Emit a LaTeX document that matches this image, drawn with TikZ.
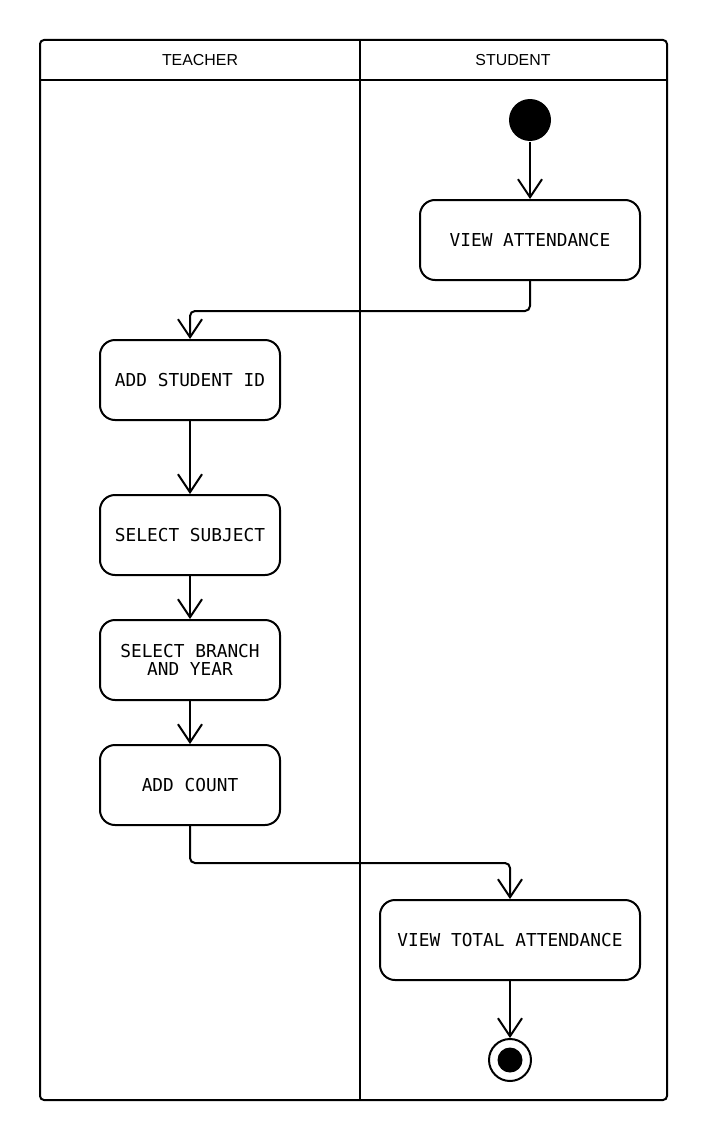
\documentclass[tikz,border=0pt]{standalone}
\usepackage{fontspec}
\setmainfont{Liberation Sans}
\setmonofont{DejaVu Sans Mono}
\usetikzlibrary{shapes,arrows,positioning,arrows.meta}

\tikzset{
  act/.style={draw, rectangle, rounded corners=15pt, minimum width=180pt, minimum height=80pt,
    align=center, inner sep=0pt, font=\ttfamily\fontsize{17.8}{18}\selectfont},
  lane/.style={font=\fontsize{15.9}{18}\selectfont}
}

\begin{document}
\begin{tikzpicture}[x=1pt, y=-1pt, node distance=125pt, line width=2pt, >={Straight Barb[length=18pt,width=24pt]}]

        \useasboundingbox (0,0) rectangle (708,1140);

        \draw [rounded corners=4pt] (40,40) rectangle (667,1100);
        \draw (40,80) -- (667,80);
        \draw (360,40) -- (360,1100);
        \node (teacher) [lane] at (200,60) {TEACHER};
        \node (student) [lane] at (513,60) {STUDENT};

        \node (start) [circle, fill, inner sep=0pt, minimum size=42pt] at (530,120) {};
        \node (viewatt) [act, minimum width=220pt, below of=start, node distance=120pt] {VIEW ATTENDANCE};

        \node (addid) [act] at (190,380) {ADD STUDENT ID};
        \node (subject) [act, below of=addid, yshift=-30pt] {SELECT SUBJECT};
        \node (branch) [act, below of=subject] {SELECT BRANCH\\AND YEAR};
        \node (count) [act, below of=branch] {ADD COUNT};

        \node (total) [act, minimum width=260pt] at (510,940) {VIEW TOTAL ATTENDANCE};
        \node (stop) [circle, draw, inner sep=0pt, minimum size=42pt, below of=total, node distance=120pt] {};
        \fill (stop.center) circle (12.5pt);

        \draw [->] (start) -- (viewatt);
        \draw [->, rounded corners=5pt] (viewatt.south) -- ++(0,30) -| (addid.north);
        \draw [->] (addid) -- (subject);
        \draw [->] (subject) -- (branch);
        \draw [->] (branch) -- (count);
        \draw [->, rounded corners=5pt] (count.south) -- ++(0,37) -| (total.north);
        \draw [->] (total) -- (stop);
    \end{tikzpicture}
\end{document}
